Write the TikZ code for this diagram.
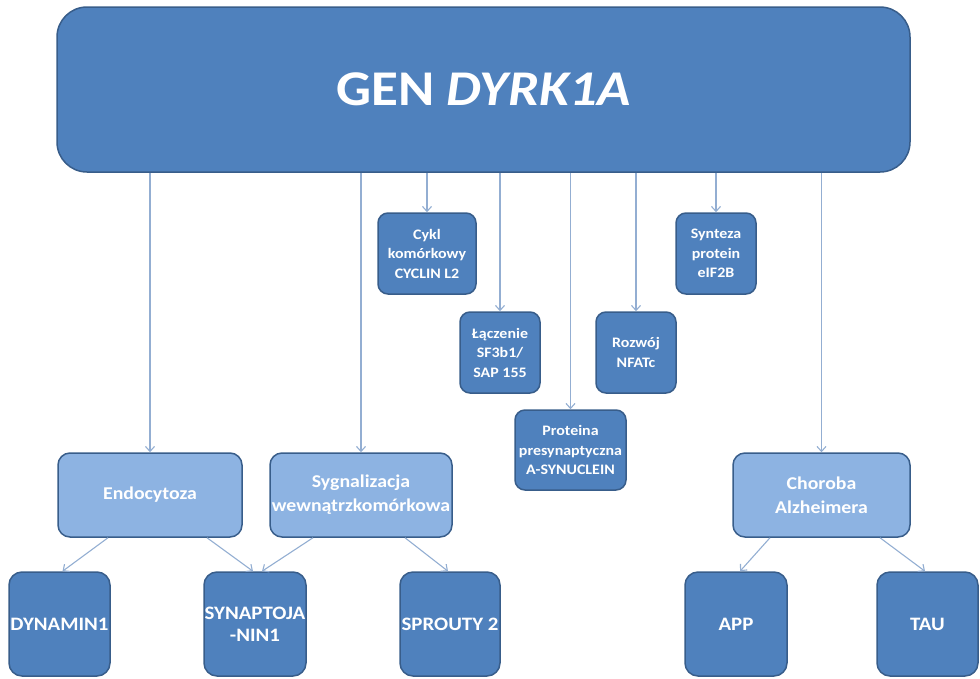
\documentclass[tikz,border=0pt]{standalone}
\usepackage{fontspec}
\setmainfont{Carlito}[FakeStretch=1.1]
\usetikzlibrary{arrows.meta}
\definecolor{dark}{HTML}{4F81BD}
\definecolor{edge}{HTML}{385D8A}
\definecolor{light}{HTML}{8DB3E2}
\definecolor{conn}{HTML}{93AED2}
\tikzset{
  box/.style={draw=edge, line width=1.5pt, fill=dark, text=white, font=\bfseries, align=center, inner sep=0pt, rounded corners=10pt},
  lbox/.style={box, fill=light, rounded corners=12pt},
  bbox/.style={box, rounded corners=13pt, font=\bfseries\fontsize{19}{22}\selectfont},
  sbox/.style={box, font=\bfseries\fontsize{14.5}{19.5}\selectfont},
  conn/.style={draw=conn, line width=1.1pt, -{Straight Barb[length=5pt,width=9pt]}}
}
\begin{document}
\begin{tikzpicture}[x=1pt,y=-1pt]
\useasboundingbox (0,0) rectangle (980,678);
\node[box, rounded corners=30pt, minimum width=853pt, minimum height=165pt, font=\bfseries\fontsize{50}{60}\selectfont] (top) at (483.5,89.5) {GEN \textit{DYRK1A}};
\node[sbox, minimum width=98pt, minimum height=81pt] (cykl) at (427,253.5) {Cykl\\komórkowy\\CYCLIN L2};
\node[sbox, minimum width=80pt, minimum height=81pt] (synt) at (716,253.5) {Synteza\\protein\\eIF2B};
\node[sbox, minimum width=80pt, minimum height=81pt] (lacz) at (500,352.5) {Łączenie\\SF3b1/\\SAP 155};
\node[sbox, minimum width=80pt, minimum height=81pt] (rozw) at (636,352.5) {Rozwój\\NFATc};
\node[sbox, minimum width=111pt, minimum height=80pt] (prot) at (570.5,450) {Proteina\\presynaptyczna\\A-SYNUCLEIN};
\node[lbox, minimum width=184pt, minimum height=84pt, font=\bfseries\fontsize{18}{24}\selectfont] (endo) at (150,495) {Endocytoza};
\node[lbox, minimum width=182pt, minimum height=84pt, font=\bfseries\fontsize{18}{24}\selectfont] (syg) at (361,495) {Sygnalizacja\\wewnątrzkomórkowa};
\node[lbox, minimum width=177pt, minimum height=84pt, font=\bfseries\fontsize{18}{24}\selectfont] (chor) at (821.5,495) {Choroba\\Alzheimera};
\node[bbox, minimum width=101pt, minimum height=104pt] (dyn) at (59.5,624) {DYNAMIN1};
\node[bbox, minimum width=102pt, minimum height=104pt] (syn) at (255,624) {SYNAPTOJA\\-NIN1};
\node[bbox, minimum width=100pt, minimum height=104pt] (spr) at (450,624) {SPROUTY 2};
\node[bbox, minimum width=102pt, minimum height=104pt] (app) at (736,624) {APP};
\node[bbox, minimum width=101pt, minimum height=104pt] (tau) at (927.5,624) {TAU};
\foreach \n in {endo,syg,cykl,lacz,prot,rozw,synt,chor}
  \draw[conn] (top.south -| \n.north) -- (\n.north);
\draw[conn] ([xshift=-42pt]endo.south) -- ([xshift=3pt]dyn.north);
\draw[conn] ([xshift=57pt]endo.south) -- ([xshift=-2pt]syn.north);
\draw[conn] ([xshift=-48pt]syg.south) -- ([xshift=7pt]syn.north);
\draw[conn] ([xshift=44pt]syg.south) -- ([xshift=-2pt]spr.north);
\draw[conn] ([xshift=-51.5pt]chor.south) -- ([xshift=4pt]app.north);
\draw[conn] ([xshift=58.5pt]chor.south) -- ([xshift=-2.5pt]tau.north);
\end{tikzpicture}
\end{document}
